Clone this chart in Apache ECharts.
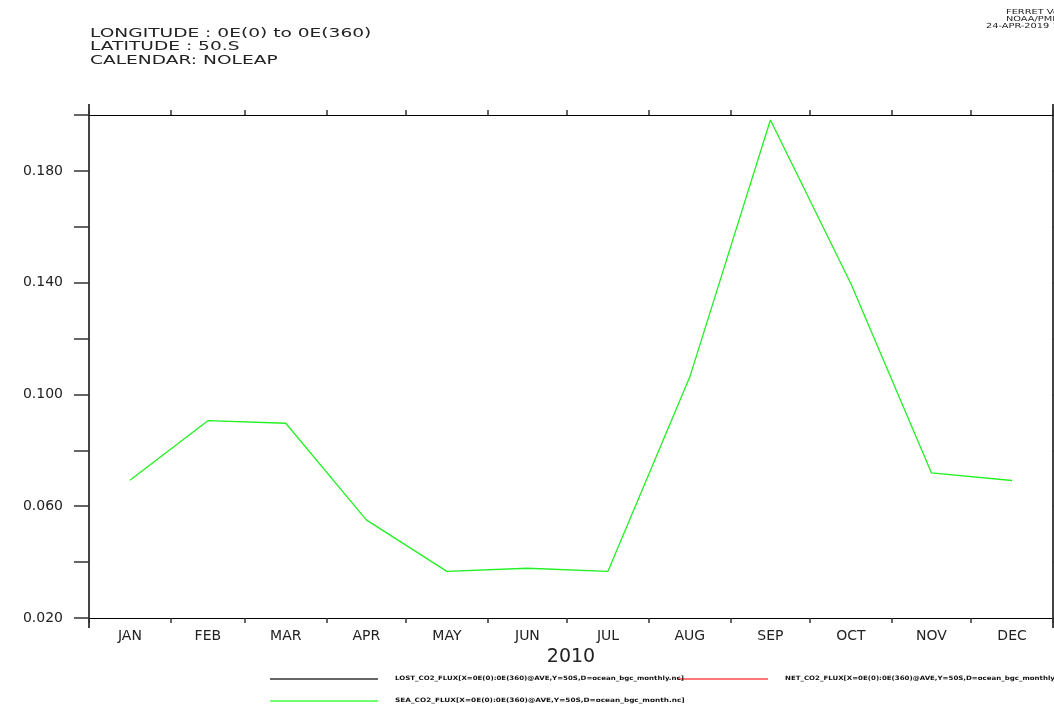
<!DOCTYPE html>
<html>
<head>
<meta charset="utf-8">
<script src="https://cdn.jsdelivr.net/npm/echarts@6/dist/echarts.min.js"></script>
<style>html,body{margin:0;padding:0;background:#fff;}#c{width:1054px;height:704px;}</style>
</head>
<body>
<div id="c"></div>
<script>
// ---- data ----
var months = ['JAN','FEB','MAR','APR','MAY','JUN','JUL','AUG','SEP','OCT','NOV','DEC'];
var monthDays = [31,28,31,30,31,30,31,31,30,31,30,31]; // NOLEAP calendar
var values = [0.0693,0.0906,0.0897,0.0551,0.0367,0.0378,0.0367,0.1063,0.1982,0.1396,0.0719,0.0692];
var yTicksLabeled = [0.020,0.060,0.100,0.140,0.180];
var headerLines = ['LONGITUDE : 0E(0) to 0E(360)','LATITUDE : 50.S','CALENDAR: NOLEAP'];
var stampLines = ['FERRET Ver. 7.43','NOAA/PMEL TMAP','24-APR-2019 10:22:51'];
var legendLabels = [
  'LOST_CO2_FLUX[X=0E(0):0E(360)@AVE,Y=50S,D=ocean_bgc_monthly.nc]',
  'NET_CO2_FLUX[X=0E(0):0E(360)@AVE,Y=50S,D=ocean_bgc_monthly_mean.nc]',
  'SEA_CO2_FLUX[X=0E(0):0E(360)@AVE,Y=50S,D=ocean_bgc_month.nc]'
];
var legendColors = ['#333333','#ff4a4a','#44ff44'];

// month boundaries and mid-month positions (day of year)
var bounds = [0];
for (var i = 0; i < monthDays.length; i++) bounds.push(bounds[i] + monthDays[i]);
var mids = months.map(function (m, i) { return bounds[i] + monthDays[i] / 2; });
var seriesData = values.map(function (v, i) { return [mids[i], v]; });

var FONT = 'DejaVu Sans';
var chart = echarts.init(document.getElementById('c'), null, {renderer: 'canvas'});

var xBase = {
  type: 'value', min: 0, max: bounds[bounds.length - 1],
  splitLine: {show: false},
  axisLine: {show: true, onZero: false, lineStyle: {color: '#000', width: 1}},
  axisTick: {show: true, inside: false, length: 5, customValues: bounds, lineStyle: {color: '#333', width: 1.5}}
};

var graphics = [];
// header
graphics.push({
  type: 'text', left: 90, top: 27, scaleX: 1.55, scaleY: 1,
  style: {text: headerLines.join('\n'), font: '12px "' + FONT + '"', fill: '#222', lineHeight: 13.5}
});
// stamp (top right)
graphics.push({type: 'text', x: 1006, y: 9, scaleX: 1.4, style: {text: stampLines[0], font: '7px "' + FONT + '"', fill: '#222'}});
graphics.push({type: 'text', x: 1006, y: 16, scaleX: 1.4, style: {text: stampLines[1], font: '7px "' + FONT + '"', fill: '#222'}});
graphics.push({type: 'text', x: 986, y: 23, scaleX: 1.4, style: {text: stampLines[2], font: '7px "' + FONT + '"', fill: '#222'}});
// axis line extensions (Ferret-style frame)
graphics.push({type: 'line', shape: {x1: 89, y1: 104, x2: 89, y2: 628}, style: {stroke: '#444', lineWidth: 2}});
graphics.push({type: 'line', shape: {x1: 1053, y1: 104, x2: 1053, y2: 628}, style: {stroke: '#444', lineWidth: 2}});
// legend
var legPos = [[270, 679], [678, 679], [270, 701]];
var legLineLen = [108, 90, 108];
legendLabels.forEach(function (lab, i) {
  var p = legPos[i];
  graphics.push({type: 'line', z: 10, shape: {x1: p[0], y1: p[1], x2: p[0] + legLineLen[i], y2: p[1]}, style: {stroke: legendColors[i], lineWidth: 1.5}});
});
var legScale = [1.17, 1.17, 1.22];
legendLabels.forEach(function (lab, i) {
  var p = legPos[i];
  var tx = p[0] + legLineLen[i] + 17;
  graphics.push({type: 'text', z: 11, x: tx, y: p[1] - 3.5, scaleX: legScale[i],
    style: {text: lab, font: 'bold 6px "' + FONT + '"', fill: '#111'}});
});

chart.setOption({
  animation: false,
  backgroundColor: '#fff',
  grid: {left: 89, right: 1, top: 115, bottom: 86, containLabel: false, outerBoundsMode: 'none'},
  xAxis: [
    Object.assign({}, xBase, {
      position: 'bottom',
      name: '2010', nameLocation: 'middle', nameGap: 30,
      nameTextStyle: {fontFamily: FONT, fontSize: 19, color: '#222'},
      axisLabel: {
        show: true, customValues: mids, margin: 11, color: '#222', fontFamily: FONT, fontSize: 14,
        formatter: function (v) {
          for (var k = 0; k < mids.length; k++) if (Math.abs(mids[k] - v) < 1e-6) return months[k];
          return '';
        }
      }
    }),
    Object.assign({}, xBase, {position: 'top', axisLabel: {show: false}})
  ],
  yAxis: [
    {
      type: 'value', min: 0.02, max: 0.2, interval: 0.02, position: 'left',
      splitLine: {show: false},
      axisLine: {show: true, onZero: false, lineStyle: {color: '#444', width: 2}},
      axisTick: {show: true, inside: false, length: 15, lineStyle: {color: '#333', width: 1.5}},
      axisLabel: {
        margin: 26, color: '#222', fontFamily: FONT, fontSize: 14,
        formatter: function (v) {
          for (var k = 0; k < yTicksLabeled.length; k++) if (Math.abs(yTicksLabeled[k] - v) < 1e-6) return v.toFixed(3);
          return '';
        }
      }
    },
    {
      type: 'value', min: 0.02, max: 0.2, interval: 0.02, position: 'right',
      splitLine: {show: false},
      axisLine: {show: true, onZero: false, lineStyle: {color: '#444', width: 2}},
      axisTick: {show: true, inside: false, length: 15, lineStyle: {color: '#333', width: 1.5}},
      axisLabel: {show: false}
    }
  ],
  series: [{
    type: 'line', xAxisIndex: 0, yAxisIndex: 0,
    data: seriesData, showSymbol: false, symbol: 'none', smooth: false,
    lineStyle: {color: '#22f022', width: 1.3},
    itemStyle: {color: '#22f022'}
  }],
  graphic: graphics
});
</script>
</body>
</html>
